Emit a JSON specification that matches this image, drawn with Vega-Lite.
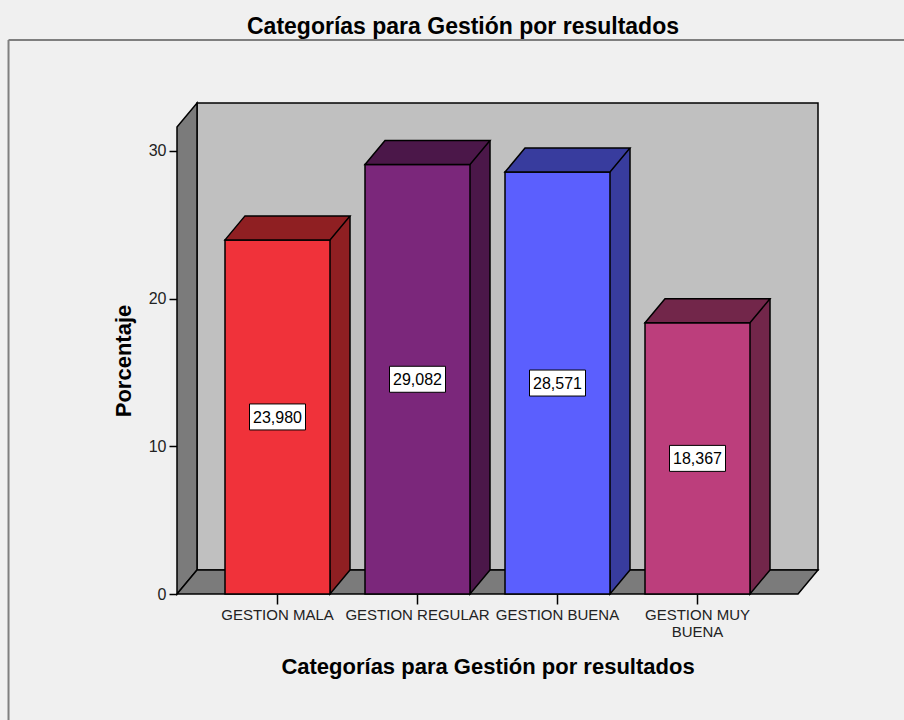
{
  "$schema": "https://vega.github.io/schema/vega-lite/v6.json",
  "width": 621,
  "height": 467,
  "autosize": {"type": "none"},
  "padding": {"left": 177, "top": 127, "right": 106, "bottom": 126},
  "background": "#f0f0f0",
  "config": {
    "view": {"stroke": null},
    "font": "Liberation Sans",
    "locale": {"number": {"decimal": ",", "thousands": ".", "grouping": [3], "currency": ["", " €"]}}
  },
  "title": {
    "text": "Categorías para Gestión por resultados",
    "fontSize": 23,
    "fontWeight": "bold",
    "color": "#000000",
    "anchor": "middle",
    "frame": "group",
    "dx": -24.5,
    "offset": 0
  },
  "datasets": {
    "rows": [
      {"cat": "GESTION MALA", "pct": 23.980},
      {"cat": "GESTION REGULAR", "pct": 29.082},
      {"cat": "GESTION BUENA", "pct": 28.571},
      {"cat": "GESTION MUY BUENA", "pct": 18.367}
    ],
    "one": [{}]
  },
  "layer": [
    {
      "data": {"name": "one"},
      "mark": {"type": "rule", "stroke": "#7f7f7f", "strokeWidth": 2},
      "encoding": {
        "x": {"datum": -0.2713, "type": "quantitative", "scale": {"domain": [0, 1], "nice": false, "zero": false}, "axis": null},
        "y": {"datum": 37.52, "type": "quantitative", "scale": {"domain": [0, 31.624], "nice": false}, "axis": null},
        "y2": {"datum": -10}
      }
    },
    {
      "data": {"name": "one"},
      "mark": {"type": "rule", "stroke": "#7f7f7f", "strokeWidth": 2},
      "encoding": {
        "x": {"datum": -0.2713, "type": "quantitative", "scale": {"domain": [0, 1], "nice": false, "zero": false}, "axis": null},
        "x2": {"datum": 1.3},
        "y": {"datum": 37.52, "type": "quantitative", "scale": {"domain": [0, 31.624], "nice": false}, "axis": null}
      }
    },
    {
      "data": {"name": "one"},
      "mark": {"type": "rect", "fill": "#c0c0c0", "stroke": "#000000", "strokeWidth": 1.5, "xOffset": 20, "x2Offset": 20, "yOffset": -24, "y2Offset": -24},
      "encoding": {
        "x": {"datum": 0, "type": "quantitative", "scale": {"domain": [0, 1], "nice": false, "zero": false}, "axis": null},
        "x2": {"datum": 1},
        "y": {"datum": 31.624, "type": "quantitative", "scale": {"domain": [0, 31.624], "nice": false}, "axis": null},
        "y2": {"datum": 0}
      }
    },
    {
      "data": {"name": "one"},
      "mark": {"type": "point", "shape": "M -0.040733 -0.902240 L 0.040733 -1 L 0.040733 0.902240 L -0.040733 1 Z", "size": 241081, "filled": true, "opacity": 1, "fill": "#7b7b7b", "stroke": "#000000", "strokeWidth": 1.5, "xOffset": 10, "yOffset": -12},
      "encoding": {
        "x": {"datum": 0, "type": "quantitative", "scale": {"domain": [0, 1], "nice": false, "zero": false}, "axis": null},
        "y": {"datum": 15.812, "type": "quantitative", "scale": {"domain": [0, 31.624], "nice": false}, "axis": null}
      }
    },
    {
      "data": {"name": "one"},
      "mark": {"type": "point", "shape": "M -1 0.037441 L 0.937598 0.037441 L 1 -0.037441 L -0.937598 -0.037441 Z", "size": 410881, "filled": true, "opacity": 1, "fill": "#7b7b7b", "stroke": "#000000", "strokeWidth": 1.5, "xOffset": 10, "yOffset": -12},
      "encoding": {
        "x": {"datum": 0.5, "type": "quantitative", "scale": {"domain": [0, 1], "nice": false, "zero": false}, "axis": null},
        "y": {"datum": 0, "type": "quantitative", "scale": {"domain": [0, 31.624], "nice": false}, "axis": null}
      }
    },
    {
      "data": {"name": "rows"},
      "mark": {"type": "bar", "width": 20, "xOffset": 62.5, "yOffset": -24, "y2Offset": -24, "strokeWidth": 0},
      "encoding": {
        "x": {"field": "cat", "type": "nominal", "scale": {"type": "band", "domain": ["GESTION MALA", "GESTION REGULAR", "GESTION BUENA", "GESTION MUY BUENA"], "paddingInner": 0.25, "paddingOuter": 0.342857}, "axis": null},
        "y": {"field": "pct", "type": "quantitative", "scale": {"domain": [0, 31.624], "nice": false}, "axis": null},
        "y2": {"datum": 0},
        "fill": {"field": "cat", "type": "nominal", "scale": {"domain": ["GESTION MALA", "GESTION REGULAR", "GESTION BUENA", "GESTION MUY BUENA"], "range": ["#8f1f22", "#4b1749", "#383c9e", "#72264a"]}, "legend": null}
      }
    },
    {
      "data": {"name": "rows"},
      "mark": {"type": "point", "shape": "M -0.833333 -1 L -0.833333 1 L 0.833333 -1", "size": 576, "filled": true, "opacity": 1, "stroke": "#000000", "strokeWidth": 1.5, "xOffset": 10, "yOffset": -12},
      "encoding": {
        "x": {"field": "cat", "type": "nominal", "bandPosition": 1, "scale": {"type": "band", "domain": ["GESTION MALA", "GESTION REGULAR", "GESTION BUENA", "GESTION MUY BUENA"], "paddingInner": 0.25, "paddingOuter": 0.342857}, "axis": null},
        "y": {"datum": 0, "type": "quantitative", "scale": {"domain": [0, 31.624], "nice": false}, "axis": null},
        "fill": {"field": "cat", "type": "nominal", "scale": {"domain": ["GESTION MALA", "GESTION REGULAR", "GESTION BUENA", "GESTION MUY BUENA"], "range": ["#8f1f22", "#4b1749", "#383c9e", "#72264a"]}, "legend": null}
      }
    },
    {
      "data": {"name": "rows"},
      "mark": {"type": "rule", "stroke": "#000000", "strokeWidth": 1.5, "xOffset": 20, "yOffset": -24, "y2Offset": -24},
      "encoding": {
        "x": {"field": "cat", "type": "nominal", "bandPosition": 1, "scale": {"type": "band", "domain": ["GESTION MALA", "GESTION REGULAR", "GESTION BUENA", "GESTION MUY BUENA"], "paddingInner": 0.25, "paddingOuter": 0.342857}, "axis": null},
        "y": {"field": "pct", "type": "quantitative", "scale": {"domain": [0, 31.624], "nice": false}, "axis": null},
        "y2": {"datum": 0}
      }
    },
    {
      "data": {"name": "rows"},
      "mark": {"type": "bar", "stroke": "#000000", "strokeWidth": 1.5},
      "encoding": {
        "x": {
          "field": "cat", "type": "nominal",
          "scale": {"type": "band", "domain": ["GESTION MALA", "GESTION REGULAR", "GESTION BUENA", "GESTION MUY BUENA"], "paddingInner": 0.25, "paddingOuter": 0.342857},
          "axis": {
            "title": "Categorías para Gestión por resultados",
            "titleFontSize": 22, "titleFontWeight": "bold", "titleColor": "#000000", "titlePadding": 17,
            "labelFontSize": 15, "labelColor": "#222222", "labelAngle": 0, "labelPadding": 3, "labelLineHeight": 17,
            "labelOverlap": false, "labelBound": false, "labelLimit": 300,
            "labelExpr": "datum.label == 'GESTION MUY BUENA' ? ['GESTION MUY', 'BUENA'] : datum.label",
            "tickSize": 10, "tickColor": "#000000", "tickWidth": 1.5, "domain": false, "grid": false, "orient": "bottom"
          }
        },
        "y": {
          "field": "pct", "type": "quantitative",
          "scale": {"domain": [0, 31.624], "nice": false},
          "axis": {
            "title": "Porcentaje",
            "titleFontSize": 22, "titleFontWeight": "bold", "titleColor": "#000000", "titlePadding": 13,
            "labelFontSize": 16, "labelColor": "#222222", "labelPadding": 3,
            "tickSize": 8, "tickColor": "#000000", "tickWidth": 1.5,
            "values": [0, 10, 20, 30], "domain": false, "grid": false, "orient": "left"
          }
        },
        "color": {"field": "cat", "type": "nominal", "scale": {"domain": ["GESTION MALA", "GESTION REGULAR", "GESTION BUENA", "GESTION MUY BUENA"], "range": ["#f0323a", "#7b277b", "#5b5ffe", "#bc3e7c"]}, "legend": null}
      }
    },
    {
      "data": {"name": "rows"},
      "mark": {"type": "point", "shape": "M -1 0.192 L 0.68 0.192 L 1 -0.192 L -0.68 -0.192 Z", "size": 15625, "filled": true, "opacity": 1, "stroke": "#000000", "strokeWidth": 1.5, "xOffset": 10, "yOffset": -12},
      "encoding": {
        "x": {"field": "cat", "type": "nominal", "scale": {"type": "band", "domain": ["GESTION MALA", "GESTION REGULAR", "GESTION BUENA", "GESTION MUY BUENA"], "paddingInner": 0.25, "paddingOuter": 0.342857}, "axis": null},
        "y": {"field": "pct", "type": "quantitative", "scale": {"domain": [0, 31.624], "nice": false}, "axis": null},
        "fill": {"field": "cat", "type": "nominal", "scale": {"domain": ["GESTION MALA", "GESTION REGULAR", "GESTION BUENA", "GESTION MUY BUENA"], "range": ["#8f1f22", "#4b1749", "#383c9e", "#72264a"]}, "legend": null}
      }
    },
    {
      "data": {"name": "rows"},
      "mark": {"type": "point", "shape": "M -1 -0.464286 L 1 -0.464286 L 1 0.464286 L -1 0.464286 Z", "size": 3136, "filled": true, "opacity": 1, "fill": "#ffffff", "stroke": "#000000", "strokeWidth": 1},
      "encoding": {
        "x": {"field": "cat", "type": "nominal", "scale": {"type": "band", "domain": ["GESTION MALA", "GESTION REGULAR", "GESTION BUENA", "GESTION MUY BUENA"], "paddingInner": 0.25, "paddingOuter": 0.342857}, "axis": null},
        "y": {"field": "pct", "type": "quantitative", "scale": {"domain": [0, 63.248], "nice": false}, "axis": null}
      }
    },
    {
      "data": {"name": "rows"},
      "mark": {"type": "text", "fontSize": 16, "color": "#000000", "align": "center", "baseline": "middle", "dy": 1},
      "encoding": {
        "x": {"field": "cat", "type": "nominal", "scale": {"type": "band", "domain": ["GESTION MALA", "GESTION REGULAR", "GESTION BUENA", "GESTION MUY BUENA"], "paddingInner": 0.25, "paddingOuter": 0.342857}, "axis": null},
        "y": {"field": "pct", "type": "quantitative", "scale": {"domain": [0, 63.248], "nice": false}, "axis": null},
        "text": {"field": "pct", "type": "quantitative", "format": ".3f"}
      }
    }
  ],
  "resolve": {"scale": {"x": "independent", "y": "independent"}}
}
